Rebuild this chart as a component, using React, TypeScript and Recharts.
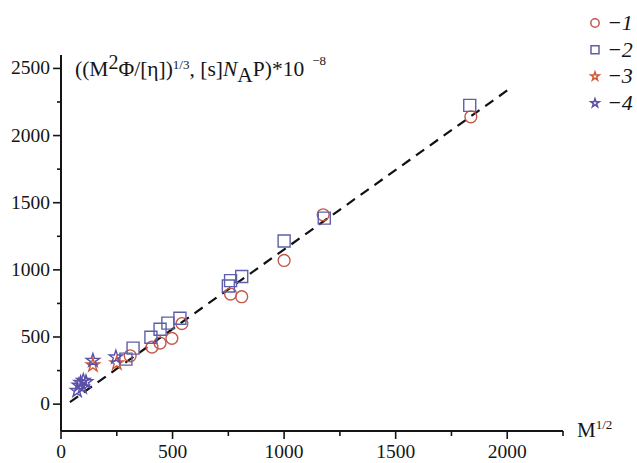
import React from 'react'
import { ScatterChart, Scatter, XAxis, YAxis, Symbols } from 'recharts'

// series 1: circles, series 2: squares, series 3/4: stars
const series1 = [
  { x: 310, y: 360 }, { x: 408, y: 425 }, { x: 444, y: 455 }, { x: 497, y: 490 },
  { x: 542, y: 600 }, { x: 760, y: 820 }, { x: 810, y: 800 }, { x: 1000, y: 1070 },
  { x: 1175, y: 1410 }, { x: 1837, y: 2140 },
]
const series2 = [
  { x: 291, y: 335 }, { x: 323, y: 417 }, { x: 403, y: 498 }, { x: 444, y: 558 },
  { x: 479, y: 603 }, { x: 533, y: 640 }, { x: 750, y: 880 }, { x: 760, y: 920 },
  { x: 810, y: 950 }, { x: 1000, y: 1215 }, { x: 1180, y: 1385 }, { x: 1832, y: 2225 },
]
const series3 = [{ x: 143, y: 290 }, { x: 250, y: 305 }]
const series4 = [
  { x: 143, y: 325 }, { x: 246, y: 350 }, { x: 72, y: 100 }, { x: 80, y: 140 },
  { x: 88, y: 160 }, { x: 100, y: 175 }, { x: 112, y: 165 }, { x: 95, y: 125 },
]
const fitLine = [{ x: 40, y: 15 }, { x: 2020, y: 2360 }]

const xTicks = [0, 250, 500, 750, 1000, 1250, 1500, 1750, 2000, 2250]
const yTicks = [0, 250, 500, 750, 1000, 1250, 1500, 1750, 2000, 2250, 2500]

const SERIES = [
  { name: '1', data: series1, type: 'circle', color: '#c4584c', size: 110 },
  { name: '2', data: series2, type: 'square', color: '#5d5fa8', size: 144 },
  { name: '3', data: series3, type: 'star', color: '#cf5a36', size: 55 },
  { name: '4', data: series4, type: 'star', color: '#5b51a8', size: 55 },
] as const

const FONT = 'Liberation Serif'
const INK = '#151515'

const XTick = (props: any) => {
  const { x, y, payload } = props
  const major = payload.value % 500 === 0
  return (
    <g>
      <line x1={x} x2={x} y1={y} y2={y + (major ? 8 : 5)} stroke={INK} strokeWidth={1.6} />
      {major && (
        <text x={x} y={y + 27} textAnchor="middle" style={{ fontFamily: FONT, fontSize: 19.5 }} fill={INK}>
          {payload.value}
        </text>
      )}
    </g>
  )
}

const YTick = (props: any) => {
  const { x, y, payload } = props
  const major = payload.value % 500 === 0
  return (
    <g>
      <line x1={x} x2={x - (major ? 8 : 4)} y1={y} y2={y} stroke={INK} strokeWidth={1.6} />
      {major && (
        <text x={x - 11} y={y + 6} textAnchor="end" style={{ fontFamily: FONT, fontSize: 19.5 }} fill={INK}>
          {payload.value}
        </text>
      )}
    </g>
  )
}

export default function App() {
  return (
    <div style={{ position: 'absolute', left: 0, top: 0, width: 637, height: 463, background: '#fff' }}>
      <ScatterChart width={637} height={463} margin={{ top: 55, right: 74, bottom: 0, left: 0 }}>
        <XAxis type="number" dataKey="x" domain={[0, 2250]} ticks={xTicks} interval={0}
          height={32} tickSize={0} tickMargin={0} tickLine={false}
          axisLine={{ stroke: INK, strokeWidth: 2 }} tick={<XTick />} />
        <YAxis type="number" dataKey="y" domain={[-200, 2600]} ticks={yTicks} interval={0}
          width={61} tickSize={0} tickMargin={0} tickLine={false}
          axisLine={{ stroke: INK, strokeWidth: 2 }} tick={<YTick />} />
        <Scatter data={fitLine} isAnimationActive={false} legendType="none"
          line={{ stroke: '#111', strokeWidth: 2.2, strokeDasharray: '10 7' }}
          shape={() => null} />
        {SERIES.map((s) => (
          <Scatter key={s.name} name={s.name} data={s.data as any} isAnimationActive={false}
            shape={(p: any) => (
              <Symbols cx={p.cx} cy={p.cy} type={s.type as any} size={s.size}
                fill="none" stroke={s.color} strokeWidth={1.4} />
            )} />
        ))}
      </ScatterChart>
      <svg width={637} height={463} style={{ position: 'absolute', left: 0, top: 0, pointerEvents: 'none' }}>
        <g style={{ fontFamily: FONT }} fill={INK}>
          <text x={75} y={76} fontSize={21.5}>
            <tspan>((M</tspan>
            <tspan fontSize={20} dy={-7}>2</tspan>
            <tspan dy={7}>Φ/[η])</tspan>
            <tspan fontSize={13} dy={-7}>1/3</tspan>
            <tspan dy={7}>, [s]</tspan>
            <tspan fontStyle="italic">N</tspan>
            <tspan dy={6}>A</tspan>
            <tspan dy={-6}>P)*10</tspan>
            <tspan fontSize={13} dx={8} dy={-11}>−8</tspan>
          </text>
          <text x={577} y={437} fontSize={21}>
            <tspan>M</tspan>
            <tspan fontSize={13} dy={-8}>1/2</tspan>
          </text>
          {SERIES.map((s, i) => (
            <g key={s.name}>
              <Symbols cx={595} cy={23 + i * 26.7} type={s.type as any}
                size={s.type === 'star' ? 22 : s.type === 'square' ? 64 : 55}
                fill="none" stroke={s.color} strokeWidth={1.5} />
              <text x={607} y={30 + i * 26.7} fontStyle="italic" fontSize={22}>{'\u2212' + s.name}</text>
            </g>
          ))}
        </g>
      </svg>
    </div>
  )
}
